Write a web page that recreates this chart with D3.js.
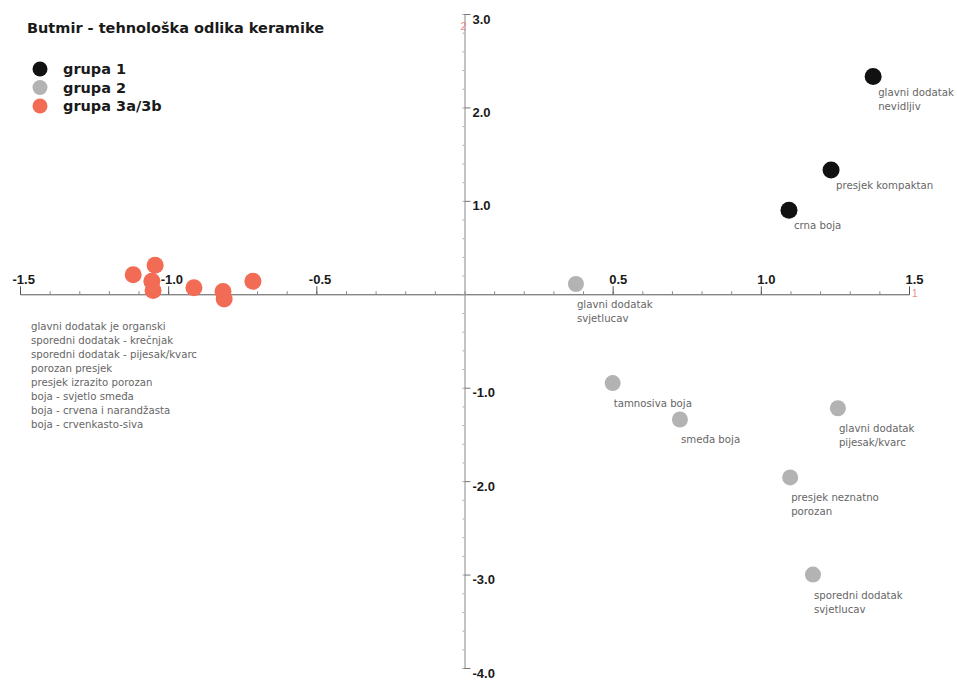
<!DOCTYPE html>
<html>
<head>
<meta charset="utf-8">
<script src="https://cdn.jsdelivr.net/npm/d3@7"></script>
<style>
  body { margin: 0; background: #fff; }
  svg { font-family: Arial, "Liberation Sans", sans-serif; }
</style>
</head>
<body>
<svg id="chart" width="957" height="681"></svg>
<script>
// data
var groups = ['grupa 1', 'grupa 2', 'grupa 3a/3b'];
var groupColors = ['#111111', '#b3b3b3', '#f26b55'];

var group1X = [1.379, 1.237, 1.095];
var group1Y = [2.33, 1.33, 0.90];
var group1Labels = [['glavni dodatak', 'nevidljiv'], ['presjek kompaktan'], ['crna boja']];

var group2X = [0.376, 0.50, 0.727, 1.26, 1.099, 1.176];
var group2Y = [0.11, -0.95, -1.34, -1.22, -1.96, -3.0];
var group2Labels = [['glavni dodatak', 'svjetlucav'], ['tamnosiva boja'], ['smeđa boja'],
  ['glavni dodatak', 'pijesak/kvarc'], ['presjek neznatno', 'porozan'], ['sporedni dodatak', 'svjetlucav']];

var group3X = [-1.118, -1.044, -1.055, -1.051, -0.913, -0.815, -0.811, -0.714];
var group3Y = [0.21, 0.31, 0.14, 0.04, 0.07, 0.03, -0.05, 0.14];
var group3Labels = ['glavni dodatak je organski', 'sporedni dodatak - krečnjak',
  'sporedni dodatak - pijesak/kvarc', 'porozan presjek', 'presjek izrazito porozan',
  'boja - svjetlo smeđa', 'boja - crvena i narandžasta', 'boja - crvenkasto-siva'];

var xTicks = [-1.5, -1.0, -0.5, 0.5, 1.0, 1.5];
var yTicks = [3.0, 2.0, 1.0, -1.0, -2.0, -3.0, -4.0];

var svg = d3.select('#chart');

var x = d3.scaleLinear().domain([-1.5, 1.5]).range([20, 909]);
var y = d3.scaleLinear().domain([-4, 3]).range([668, 14]);

// x axis (horizontal through 0)
var xAxisG = svg.append('g')
  .attr('transform', `translate(0,${y(0)})`)
  .call(d3.axisTop(x).tickValues(d3.range(-15, 16).map(d => d / 10)).tickSize(3).tickFormat(''));
xAxisG.select('.domain').attr('stroke', '#555');
xAxisG.selectAll('.tick line').attr('stroke', '#888');

var xMajor = svg.append('g')
  .attr('transform', `translate(0,${y(0)})`)
  .call(d3.axisTop(x).tickValues(xTicks).tickSize(8).tickSizeOuter(0)
    .tickFormat(d => (d < 0 ? '-' : '') + Math.abs(d).toFixed(1)));
xMajor.select('.domain').remove();
xMajor.selectAll('.tick line').attr('stroke', '#555');
xMajor.selectAll('.tick text')
  .attr('text-anchor', 'start')
  .attr('x', d => d < 0 ? -8 : -4)
  .attr('y', -10)
  .attr('fill', '#1a1a1a')
  .style('font-size', '13px')
  .style('font-weight', 'bold');

// y axis (vertical through 0)
var yAxisG = svg.append('g')
  .attr('transform', `translate(${x(0)},0)`)
  .call(d3.axisLeft(y).tickValues(d3.range(-20, 16).map(d => d / 5)).tickSize(2).tickFormat(''));
yAxisG.select('.domain').attr('stroke', '#888');
yAxisG.selectAll('.tick line').attr('stroke', '#aaa');

var yMajor = svg.append('g')
  .attr('transform', `translate(${x(0)},0)`)
  .call(d3.axisRight(y).tickValues(yTicks).tickSize(6).tickSizeOuter(0)
    .tickFormat(d => (d < 0 ? '-' : '') + Math.abs(d).toFixed(1)));
yMajor.select('.domain').remove();
yMajor.selectAll('.tick line').attr('stroke', '#777');
yMajor.selectAll('.tick text')
  .attr('x', 8)
  .attr('dy', 0)
  .attr('y', 9)
  .attr('fill', '#1a1a1a')
  .style('font-size', '13px')
  .style('font-weight', 'bold');

// axis names in faint red
svg.append('text').attr('x', x(1.5) + 3).attr('y', y(0) + 3).attr('fill', '#e07070')
  .attr('opacity', 0.8).style('font-size', '10px').text('1');
svg.append('text').attr('x', x(0) - 4).attr('y', y(3) + 16).attr('fill', '#e07070')
  .attr('opacity', 0.8).style('font-size', '11px').text('2');

// points
function drawGroup(xs, ys, color, r) {
  svg.append('g').selectAll('circle')
    .data(xs.map((d, i) => [d, ys[i]]))
    .enter().append('circle')
    .attr('cx', d => x(d[0]))
    .attr('cy', d => y(d[1]))
    .attr('r', r)
    .attr('fill', color);
}
drawGroup(group3X, group3Y, groupColors[2], 8.5);
drawGroup(group2X, group2Y, groupColors[1], 8);
drawGroup(group1X, group1Y, groupColors[0], 8.5);

// point labels
function drawLabels(xs, ys, labels, dx, dy) {
  labels.forEach((lines, i) => {
    var t = svg.append('text')
      .attr('x', x(xs[i]) + dx)
      .attr('y', y(ys[i]) + dy)
      .attr('fill', '#666')
      .style('font-family', '"DejaVu Sans", sans-serif')
      .style('font-size', '10.2px');
    lines.forEach((l, j) => {
      t.append('tspan').attr('x', x(xs[i]) + dx).attr('dy', j == 0 ? 0 : 14).text(l);
    });
  });
}
drawLabels(group1X, group1Y, group1Labels, 5, 19);
drawLabels(group2X, group2Y, group2Labels, 1, 24);

// description of group 3
svg.append('g').selectAll('text')
  .data(group3Labels)
  .enter().append('text')
  .attr('x', 31)
  .attr('y', (d, i) => 330 + i * 14)
  .attr('fill', '#666')
  .style('font-family', '"DejaVu Sans", sans-serif')
  .style('font-size', '10.2px')
  .text(d => d);

// title & legend
svg.append('text').attr('x', 27).attr('y', 33)
  .style('font-family', '"DejaVu Sans", sans-serif')
  .style('font-size', '14.5px').style('font-weight', 'bold').attr('fill', '#1a1a1a')
  .text('Butmir - tehnološka odlika keramike');

var legend = svg.append('g').selectAll('g')
  .data(groups)
  .enter().append('g')
  .attr('transform', (d, i) => `translate(40,${69 + i * 18.5})`);
legend.append('circle').attr('r', 7.5).attr('fill', (d, i) => groupColors[i]);
legend.append('text').attr('x', 23).attr('y', 5)
  .style('font-family', '"DejaVu Sans", sans-serif')
  .style('font-size', '14.5px').style('font-weight', 'bold').attr('fill', '#1a1a1a')
  .text(d => d);
</script>
</body>
</html>
